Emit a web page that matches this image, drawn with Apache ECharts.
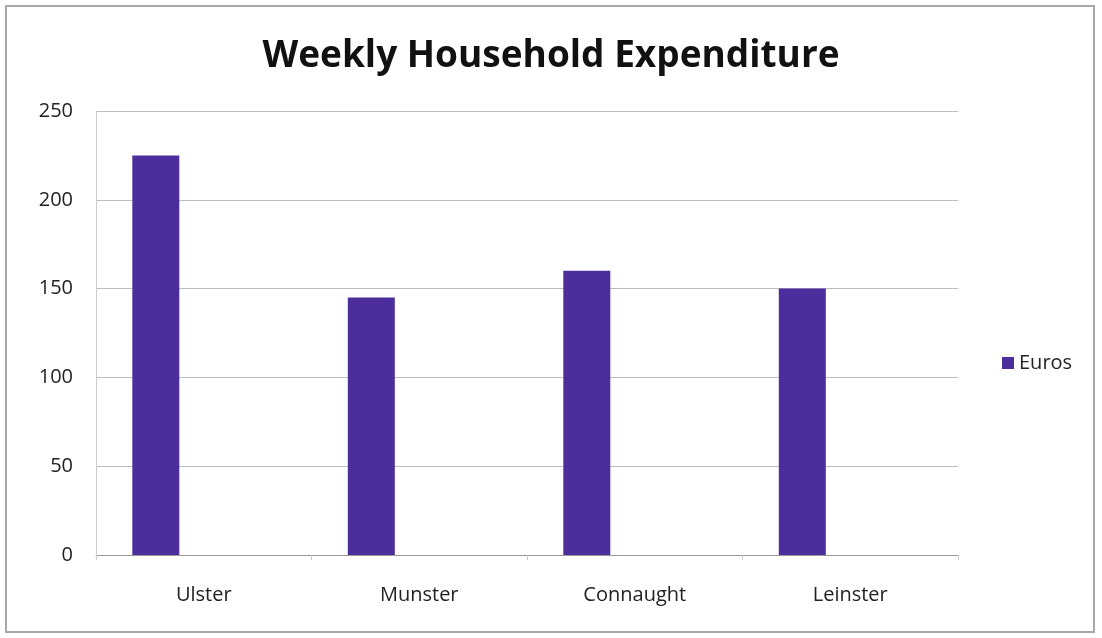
<!DOCTYPE html>
<html>
<head>
<meta charset="utf-8">
<script src="https://cdn.jsdelivr.net/npm/echarts@6/dist/echarts.min.js"></script>
<style>
  html, body { margin: 0; padding: 0; background: #fff; }
  #frame { position: absolute; left: 5px; top: 5px; width: 1090px; height: 628px; border: 2px solid #a8a8a8; box-sizing: border-box; }
  #chart { position: absolute; left: 0; top: 0; width: 1102px; height: 638px; }
</style>
</head>
<body>
<div id="frame"></div>
<div id="chart"></div>
<script>
// Weekly household expenditure by province (euros)
const provinces = ['Ulster', 'Munster', 'Connaught', 'Leinster'];
const euros = [225, 145, 160, 150];
const yTicks = { min: 0, max: 250, step: 50 };

const chart = echarts.init(document.getElementById('chart'));
const font = 'Open Sans, DejaVu Sans, sans-serif';

chart.setOption({
  animation: false,
  title: {
    text: 'Weekly Household Expenditure',
    left: 'center',
    top: 33,
    textStyle: { fontFamily: font, fontSize: 37, fontWeight: 'bold', color: '#111' }
  },
  legend: {
    data: ['Euros'],
    left: 997,
    top: 348,
    itemWidth: 12,
    itemHeight: 12,
    itemGap: 6,
    textStyle: { fontFamily: font, fontSize: 20, color: '#222' },
    icon: 'rect'
  },
  grid: { left: 96, right: 144, top: 111, bottom: 83, containLabel: false },
  xAxis: {
    type: 'category',
    data: provinces,
    axisLine: { lineStyle: { color: '#999', width: 1 } },
    axisTick: { show: true, alignWithLabel: false, length: 5, lineStyle: { color: '#ccc' } },
    axisLabel: { fontFamily: font, fontSize: 20, color: '#222', margin: 30 }
  },
  yAxis: {
    type: 'value',
    min: yTicks.min,
    max: yTicks.max,
    interval: yTicks.step,
    axisLine: { show: true, lineStyle: { color: '#ccc' } },
    axisTick: { show: false },
    splitLine: { lineStyle: { color: '#bdbdbd', width: 1 } },
    axisLabel: { fontFamily: font, fontSize: 20, color: '#222', margin: 23 }
  },
  series: [
    {
      name: 'Euros',
      type: 'bar',
      data: euros,
      barWidth: 47,
      barGap: '104%',
      itemStyle: { color: '#4b2d9c' }
    },
    {
      name: 'blank',
      type: 'bar',
      data: provinces.map(() => null),
      barWidth: 47
    }
  ]
});
</script>
</body>
</html>
